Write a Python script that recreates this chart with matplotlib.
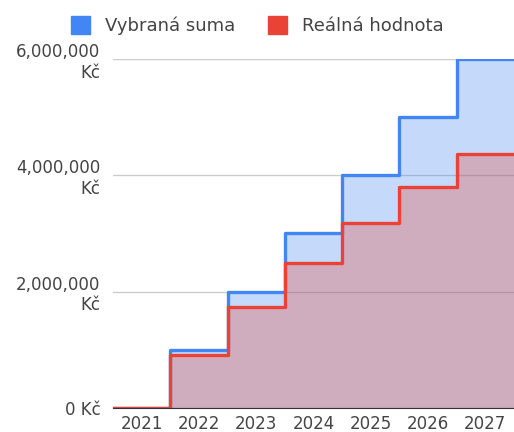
import numpy as np
import matplotlib
matplotlib.use('Agg')
import matplotlib.pyplot as plt
from matplotlib.ticker import FuncFormatter

years = ['2021', '2022', '2023', '2024', '2025', '2026', '2027']
vybrana_suma = [0, 1000000, 2000000, 3000000, 4000000, 5000000, 6000000]
realna_hodnota = [0, 910000, 1740000, 2490000, 3180000, 3800000, 4360000]

blue = '#4285f4'
red = '#ea4335'

fig = plt.figure(figsize=(5.14, 4.32), dpi=100)
ax = fig.add_axes([0.22, 0.0556, 0.78, 0.808])

edges = np.arange(len(years) + 1) - 0.5
ax.stairs(vybrana_suma, edges, fill=True, color=blue, alpha=0.3, lw=0, zorder=2)
ax.stairs(realna_hodnota, edges, fill=True, color=red, alpha=0.3, lw=0, zorder=3)
ax.stairs(vybrana_suma, edges, baseline=None, color=blue, lw=2.4, zorder=4,
          joinstyle='round', capstyle='round')
ax.stairs(realna_hodnota, edges, baseline=None, color=red, lw=2.4, zorder=5,
          joinstyle='round', capstyle='round')

ax.set_xlim(-0.5, len(years) - 0.5)
ax.set_ylim(0, 6000000)
ax.set_xticks(range(len(years)))
ax.set_xticklabels(years)
ax.set_yticks([0, 2000000, 4000000, 6000000])


def fmt(v, pos):
    if v == 0:
        return '0 Kč'
    return '{:,.0f}\nKč'.format(v)


ax.yaxis.set_major_formatter(FuncFormatter(fmt))
for lab in ax.get_yticklabels():
    lab.set_horizontalalignment('right')
    lab.set_multialignment('right')

ax.tick_params(axis='both', length=0, labelsize=12, labelcolor='#444444')
ax.tick_params(axis='y', pad=9)
ax.tick_params(axis='x', pad=5)
ax.grid(axis='y', color='#cccccc', lw=1, zorder=1)
ax.set_axisbelow(True)
for s in ['top', 'right', 'left']:
    ax.spines[s].set_visible(False)
ax.spines['bottom'].set_color('#333333')
ax.spines['bottom'].set_zorder(6)

h1 = plt.Rectangle((0, 0), 1, 1, color=blue)
h2 = plt.Rectangle((0, 0), 1, 1, color=red)
fig.legend([h1, h2], ['Vybraná suma', 'Reálná hodnota'], loc='upper center',
           bbox_to_anchor=(0.5, 1.0), ncol=2, frameon=False, fontsize=13,
           handlelength=1.1, handleheight=1.1, handletextpad=0.8,
           columnspacing=1.8, labelcolor='#444444')

fig.savefig('out.png', dpi=100)
